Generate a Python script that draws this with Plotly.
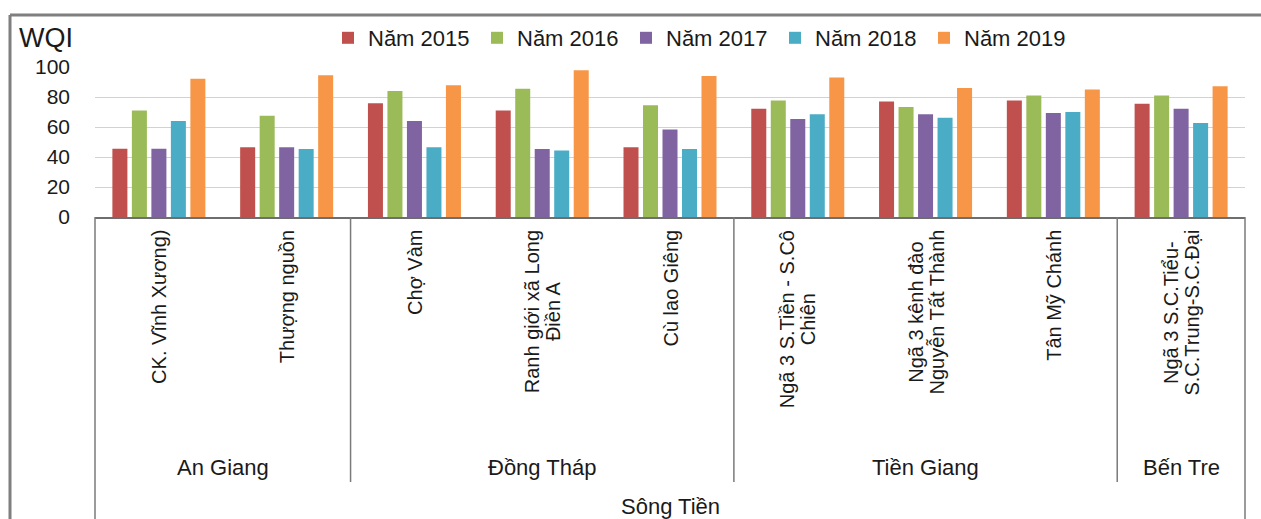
import plotly.graph_objects as go

W, H = 1261, 519
PL, PR, PT, PB = 95, 1245, 67, 217  # plot area in pixels

categories = ["CK. Vĩnh Xương)", "Thượng nguồn", "Chợ Vàm", "Ranh giới xã Long<br>Điền A",
              "Cù lao Giêng", "Ngã 3 S.Tiền - S.Cô<br>Chiên", "Ngã 3 kênh đào<br>Nguyễn Tất Thành",
              "Tân Mỹ Chánh", "Ngã 3 S.C.Tiểu-<br>S.C.Trung-S.C.Đại"]
provinces = ["An Giang", "Đồng Tháp", "Tiền Giang", "Bến Tre"]
province_counts = [2, 3, 3, 1]
river = "Sông Tiền"

series_names = ["Năm 2015", "Năm 2016", "Năm 2017", "Năm 2018", "Năm 2019"]
v2015 = [45.5, 46.5, 75.8, 71.0, 46.5, 72.2, 77.0, 77.7, 75.5]
v2016 = [71.0, 67.5, 84.0, 85.5, 74.5, 77.7, 73.3, 81.0, 81.0]
v2017 = [45.5, 46.5, 64.0, 45.3, 58.3, 65.3, 68.5, 69.3, 72.2]
v2018 = [64.0, 45.3, 46.5, 44.3, 45.3, 68.5, 66.2, 70.0, 62.7]
v2019 = [92.2, 94.5, 87.8, 97.8, 94.0, 93.0, 86.0, 85.0, 87.2]
series_values = [v2015, v2016, v2017, v2018, v2019]
colors = ["#C0504D", "#9BBB59", "#8064A2", "#4BACC6", "#F79646"]
yticks = [0, 20, 40, 60, 80, 100]

FONT = "Liberation Sans, Arial, sans-serif"
TXT = "#1a1a1a"
HIDE = "rgba(0,0,0,0)"


def px_x(x):
    return (x - PL) / (PR - PL)


def px_y(y):
    return (PB - y) / (PB - PT)


fig = go.Figure()
for name, vals, c in zip(series_names, series_values, colors):
    fig.add_trace(go.Bar(x=categories, y=vals, name=name, marker=dict(color=c, line=dict(width=0))))

shapes = []
annotations = []

# category labels (rotated); two-line labels drawn as two layers for tighter line spacing
LAB_SIZE = 20
tighten = (1.3 * LAB_SIZE - 21) / 2
for cat in categories:
    lines = cat.split("<br>")
    base = dict(x=cat, xref="x", y=0, yref="paper", yshift=-11, yanchor="top",
                xanchor="center", textangle=-90, align="center", showarrow=False,
                font=dict(family=FONT, size=LAB_SIZE, color=TXT))
    if len(lines) == 1:
        annotations.append(dict(base, text=cat))
    else:
        for k, sh in enumerate([tighten, -tighten]):
            parts = []
            for j, ln in enumerate(lines):
                parts.append(ln if j == k else f'<span style="color:{HIDE}">{ln}</span>')
            annotations.append(dict(base, text="<br>".join(parts), xshift=sh))

# province labels & dividers
start = 0
for i, (p, n) in enumerate(zip(provinces, province_counts)):
    center = start + (n - 1) / 2
    annotations.append(dict(x=center, xref="x", y=px_y(467), yref="paper", yanchor="middle",
                            xanchor="center", text=p, showarrow=False,
                            font=dict(family=FONT, size=22, color=TXT)))
    if i < len(provinces) - 1:
        xd = start + n - 0.5
        shapes.append(dict(type="line", xref="x", yref="paper", x0=xd, x1=xd,
                           y0=0, y1=px_y(482), line=dict(color="#7a7a7a", width=1.5)))
    start += n

annotations.append(dict(x=0.5, xref="paper", y=px_y(506), yref="paper", yanchor="middle",
                        xanchor="center", text=river, showarrow=False,
                        font=dict(family=FONT, size=22, color=TXT)))

# table outer lines
for xp in (PL, PR):
    shapes.append(dict(type="line", xref="paper", yref="paper", x0=px_x(xp), x1=px_x(xp),
                       y0=0, y1=px_y(H + 5), line=dict(color="#7a7a7a", width=1.5)))

# chart frame (top and left)
shapes.append(dict(type="line", xref="paper", yref="paper", x0=px_x(10), x1=px_x(W + 5),
                   y0=px_y(15), y1=px_y(15), line=dict(color="#7f7f7f", width=3)))
shapes.append(dict(type="line", xref="paper", yref="paper", x0=px_x(10), x1=px_x(10),
                   y0=px_y(15), y1=px_y(H + 5), line=dict(color="#7f7f7f", width=3)))

annotations.append(dict(x=px_x(17), xref="paper", y=px_y(38), yref="paper", yanchor="middle",
                        xanchor="left", text="WQI", showarrow=False,
                        font=dict(family=FONT, size=27, color=TXT)))

fig.update_layout(
    width=W, height=H,
    margin=dict(l=PL, r=W - PR, t=PT, b=H - PB, pad=0),
    paper_bgcolor="white", plot_bgcolor="white",
    barmode="group", bargap=0.237, bargroupgap=0.23,
    font=dict(family=FONT, size=20, color=TXT),
    showlegend=True,
    legend=dict(orientation="h", x=px_x(328), y=px_y(38), xanchor="left", yanchor="middle",
                font=dict(family=FONT, size=22, color=TXT), bgcolor="rgba(0,0,0,0)",
                entrywidth=104, entrywidthmode="pixels", itemclick=False),
    xaxis=dict(showticklabels=False, showgrid=False, ticks="", showline=True,
               linecolor="#6e6e6e", linewidth=1.5, range=[-0.5, len(categories) - 0.5],
               zeroline=False),
    yaxis=dict(range=[0, 100], tickvals=yticks, showgrid=True, gridcolor="#d2d2d2", gridwidth=1,
               showline=False, zeroline=False, ticks="", ticklabelstandoff=24,
               tickfont=dict(family=FONT, size=21, color=TXT)),
    shapes=shapes, annotations=annotations,
)

fig.write_html("out.html", config={"displayModeBar": False},
               post_script="document.body.style.margin='0px';document.body.style.overflow='hidden';")
